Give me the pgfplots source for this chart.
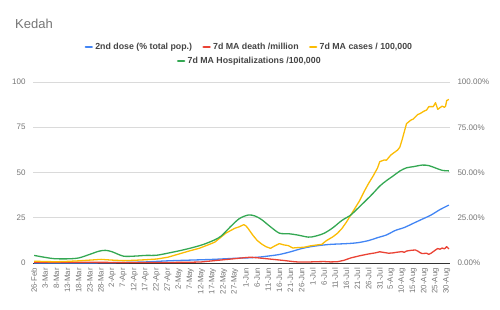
\documentclass[border=0pt]{standalone}
\usepackage{pgfplots}
\pgfplotsset{compat=1.18}
\usepackage{fontspec}
\setmainfont{Liberation Sans}
\definecolor{gblue}{HTML}{4285F4}
\definecolor{gred}{HTML}{EA4335}
\definecolor{gyellow}{HTML}{FBBC04}
\definecolor{ggreen}{HTML}{34A853}
\definecolor{ticgray}{HTML}{757575}
\definecolor{leggray}{HTML}{444444}
\definecolor{gridgray}{HTML}{DADADA}
\definecolor{basegray}{HTML}{333333}
\begin{document}
\begin{tikzpicture}[x=1pt,y=1pt]
\path[use as bounding box] (0,0) rectangle (500,309);
\node[anchor=base west, inner sep=0pt, text=ticgray, font=\fontsize{13}{15}\selectfont] at (15,281) {Kedah};
\pgfplotsset{
  mystyle/.style={
    at={(33pt,46pt)}, anchor=south west, scale only axis,
    width=417pt, height=181pt,
    xmin=-0.5, xmax=186.5, ymin=0, ymax=100,
    major tick length=0pt,
    tick label style={font=\fontsize{8}{9}\selectfont, text=ticgray},
    /pgf/number format/assume math mode=true,
    legend image code/.code={\draw[##1, line width=2.6pt, line cap=round] (0pt,0pt) -- (6pt,0pt);},
  }
}
\begin{axis}[mystyle,
  axis line style={draw=none},
  ytick={0,25,50,75,100},
  yticklabel shift=4pt,
  ymajorgrids, grid style={draw=gridgray, line width=0.6pt},
  extra y ticks={0}, extra y tick labels={},
  extra y tick style={grid style={draw=basegray, line width=0.8pt}},
  xtick={0,5,...,185},
  xticklabels={26-Feb,3-Mar,8-Mar,13-Mar,18-Mar,23-Mar,28-Mar,2-Apr,7-Apr,12-Apr,17-Apr,22-Apr,27-Apr,2-May,7-May,12-May,17-May,22-May,27-May,1-Jun,6-Jun,11-Jun,16-Jun,21-Jun,26-Jun,1-Jul,6-Jul,11-Jul,16-Jul,21-Jul,26-Jul,31-Jul,5-Aug,10-Aug,15-Aug,20-Aug,25-Aug,30-Aug},
  xticklabel style={rotate=90, anchor=east, inner sep=0pt, font=\fontsize{7.8}{9}\selectfont},
  xticklabel shift=5pt,
  legend style={draw=none, fill=none, at={(0.519,1.193)}, anchor=center,
    font=\bfseries\fontsize{8.8}{10}\selectfont, text=leggray,
    /tikz/every even column/.append style={column sep=8pt},
    nodes={inner sep=2.2pt}},
  legend columns=3,
  every axis plot/.append style={line width=1.3pt, no markers, line join=round},
]
\addplot[gblue, smooth] coordinates {
(0,0) (20,0.05) (30,0.1) (40,0.3) (50,0.6) (60,1.2) (70,1.6) (80,2.0) (90,2.6) (97,2.9) (102,3.4) (106,4.0) (110,4.7) (115,6.2) (120,8.0) (124,9.0) (128,9.7) (133,10.3) (140,10.7) (145,11.2) (150,12.4) (154,14.0) (158,15.5) (162,18.0) (166,19.6) (170,21.9) (174,24.2) (178,26.5) (182,29.5) (186,32.0)
};
\addlegendentry{2nd dose (\% total pop.)}
\addplot[gred] coordinates {
(0,0.5) (20,0.4) (40,0.3) (60,0.3) (70,0.4) (75,0.6) (80,1.2) (85,1.8) (90,2.4) (94,2.9) (97,3.2) (100,2.9) (104,2.4) (108,1.9) (112,1.4) (116,0.8) (119,0.5) (122,0.5) (126,0.7) (130,0.8) (133,0.6) (136,0.7) (139,1.5) (142,2.8) (146,4.0) (150,5.0) (153,5.6) (155,6.2) (157,5.8) (159,5.4) (161,5.6) (163,6.0) (165,6.3) (166,5.9) (167,6.6) (169,7.0) (171,7.2) (172,6.6) (173,5.8) (174,5.2) (176,5.4) (177,4.8) (178,5.4) (180,7.2) (181,8.0) (182,7.6) (183,8.3) (184,7.8) (185,9.0) (186,7.8)
};
\addlegendentry{7d MA death /million}
\addplot[gyellow] coordinates {
(0,1.0) (5,0.8) (10,0.7) (15,0.9) (20,1.2) (25,1.6) (30,2.0) (35,1.6) (40,1.3) (45,1.5) (50,1.8) (55,2.2) (60,3.2) (65,5.0) (70,6.8) (74,8.1) (78,10.0) (81,11.5) (83,13.5) (86,16.5) (90,19.2) (92,20.0) (94,21.2) (95,20.5) (96,19.0) (98,15.5) (100,12.5) (102,10.5) (104,9.0) (106,8.1) (108,9.5) (110,10.7) (112,10.0) (114,9.6) (116,8.3) (118,8.5) (121,8.7) (124,9.5) (127,10.0) (129,10.3) (131,12.3) (134,14.5) (136,16.4) (138,19.0) (140,22.5) (142,26.5) (144,30.5) (146,34.5) (148,39.5) (150,44.0) (152,48.0) (154,52.5) (155,56.0) (157,56.9) (158,56.8) (160,59.7) (163,62.4) (164,64.0) (165,68.0) (166,72.5) (167,77.0) (169,79.0) (170,79.5) (172,82.0) (173,82.5) (175,84.0) (176,84.5) (177,86.4) (179,86.4) (180,88.6) (181,84.9) (182,85.8) (183,86.7) (184,86.0) (184.5,86.6) (185,89.7) (186,90.4)
};
\addlegendentry{7d MA cases / 100,000}
\addplot[ggreen, smooth] coordinates {
(0,4.2) (4,3.3) (9,2.4) (15,2.3) (20,2.8) (25,4.8) (29,6.5) (32,7.0) (35,6.2) (40,3.8) (45,3.8) (50,4.2) (55,4.3) (61,5.7) (66,7.0) (71,8.5) (76,10.3) (81,12.8) (84,15.0) (88,20.0) (92,24.5) (96,26.5) (99,26.0) (102,24.0) (106,20.0) (110,16.5) (114,16.2) (118,15.5) (123,14.3) (126,14.8) (130,16.4) (134,19.5) (138,23.5) (142,26.5) (145,30.0) (149,34.8) (152,38.5) (155,42.5) (158,45.5) (161,48.1) (164,50.8) (167,52.6) (170,53.2) (174,54.1) (177,53.8) (180,52.5) (183,51.2) (186,50.9)
};
\end{axis}
\begin{axis}[mystyle,
  hide x axis,
  axis y line*=right,
  y axis line style={draw=none},
  ytick={0,25,50,75,100},
  yticklabels={0.00\%,25.00\%,50.00\%,75.00\%,100.00\%},
  yticklabel shift=4pt,
  legend style={draw=none, fill=none, at={(0.52,1.116)}, anchor=center,
    font=\bfseries\fontsize{8.8}{10}\selectfont, text=leggray,
    nodes={inner sep=2.2pt}},
]
\addlegendimage{ggreen, line width=1.3pt}
\addlegendentry{7d MA Hospitalizations /100,000}
\end{axis}
\end{tikzpicture}
\end{document}
